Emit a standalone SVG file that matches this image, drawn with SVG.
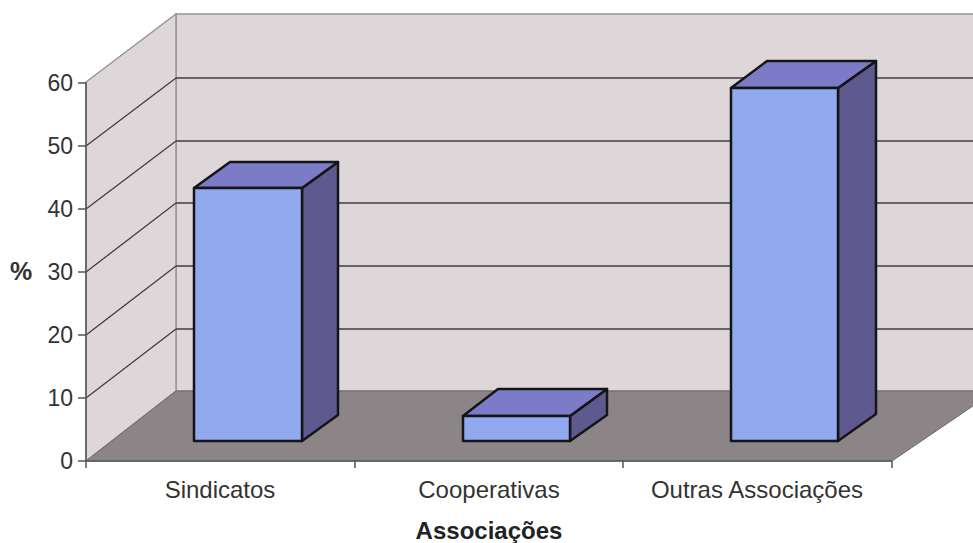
<svg xmlns="http://www.w3.org/2000/svg" width="973" height="543" viewBox="0 0 973 543">
<style>
.wall{fill:#ddd7d9;stroke:#9a949c;stroke-width:1.5}
.floor{fill:#8b8587;stroke:#6e686c;stroke-width:1}
.grid{stroke:#3e3e44;stroke-width:1.3;fill:none}
.axis{stroke:#55555a;stroke-width:1.5;fill:none}
.front{fill:#91a9ef;stroke:#151515;stroke-width:2.5;stroke-linejoin:round}
.top{fill:#7c7bc8;stroke:#151515;stroke-width:2.5;stroke-linejoin:round}
.side{fill:#5e5a90;stroke:#151515;stroke-width:2.5;stroke-linejoin:round}
.ylab{font-family:"Liberation Sans",Arial,sans-serif;font-size:23px;fill:#333;text-anchor:end}
.xlab{font-family:"Liberation Sans",Arial,sans-serif;font-size:24px;fill:#333;text-anchor:middle}
.title{font-family:"Liberation Sans",Arial,sans-serif;font-size:24px;font-weight:bold;fill:#222;text-anchor:middle}
</style>
<rect width="973" height="543" fill="#ffffff"/>
<g id="walls">
<polygon class="wall" points="176,14 995,14 995,391 176,391"/>
<polygon class="wall" points="86,82 176,14 176,391 86,461"/>
<polygon class="floor" points="86,461 176,391 995,391 892,461"/>
</g>
<g id="gridlines">
<line class="grid" x1="176" y1="78" x2="973" y2="78"/>
<line class="grid" x1="176" y1="141" x2="973" y2="141"/>
<line class="grid" x1="176" y1="203" x2="973" y2="203"/>
<line class="grid" x1="176" y1="266" x2="973" y2="266"/>
<line class="grid" x1="176" y1="329" x2="973" y2="329"/>
<line class="grid" x1="86" y1="146" x2="176" y2="78"/>
<line class="grid" x1="86" y1="209" x2="176" y2="141"/>
<line class="grid" x1="86" y1="272" x2="176" y2="203"/>
<line class="grid" x1="86" y1="335" x2="176" y2="266"/>
<line class="grid" x1="86" y1="398" x2="176" y2="329"/>
</g>
<g id="axes">
<line class="axis" x1="86" y1="82" x2="86" y2="462"/>
<line class="axis" x1="86" y1="461" x2="892" y2="461"/>
<line class="axis" x1="78" y1="83" x2="86" y2="83"/>
<line class="axis" x1="78" y1="146" x2="86" y2="146"/>
<line class="axis" x1="78" y1="209" x2="86" y2="209"/>
<line class="axis" x1="78" y1="272" x2="86" y2="272"/>
<line class="axis" x1="78" y1="335" x2="86" y2="335"/>
<line class="axis" x1="78" y1="398" x2="86" y2="398"/>
<line class="axis" x1="78" y1="461" x2="86" y2="461"/>
<line class="axis" x1="86" y1="461" x2="86" y2="468"/>
<line class="axis" x1="355" y1="461" x2="355" y2="468"/>
<line class="axis" x1="623" y1="461" x2="623" y2="468"/>
<line class="axis" x1="892" y1="461" x2="892" y2="468"/>
</g>
<g id="bar-sindicatos">
<polygon class="side" points="302,188 338,162 338,415 302,441"/>
<polygon class="top" points="194,188 230,162 338,162 302,188"/>
<rect class="front" x="194" y="188" width="108" height="253"/>
</g>
<g id="bar-cooperativas">
<polygon class="side" points="570,416 607,389 607,415 570,441"/>
<polygon class="top" points="463,416 498,389 607,389 570,416"/>
<rect class="front" x="463" y="416" width="107" height="25"/>
</g>
<g id="bar-outras">
<polygon class="side" points="838,88 876,61 876,414 838,441"/>
<polygon class="top" points="731,88 767,61 876,61 838,88"/>
<rect class="front" x="731" y="88" width="107" height="353"/>
</g>
<g id="labels">
<text class="ylab" x="73" y="91">60</text>
<text class="ylab" x="73" y="154">50</text>
<text class="ylab" x="73" y="217">40</text>
<text class="ylab" x="73" y="280">30</text>
<text class="ylab" x="73" y="343">20</text>
<text class="ylab" x="73" y="406">10</text>
<text class="ylab" x="73" y="469">0</text>
<text x="10" y="280" font-family="Liberation Sans, Arial, sans-serif" font-size="25" font-weight="bold" fill="#333">%</text>
<text class="xlab" x="220" y="498">Sindicatos</text>
<text class="xlab" x="489" y="498">Cooperativas</text>
<text class="xlab" x="757" y="498">Outras Associações</text>
<text class="title" x="489" y="539">Associações</text>
</g>
</svg>
